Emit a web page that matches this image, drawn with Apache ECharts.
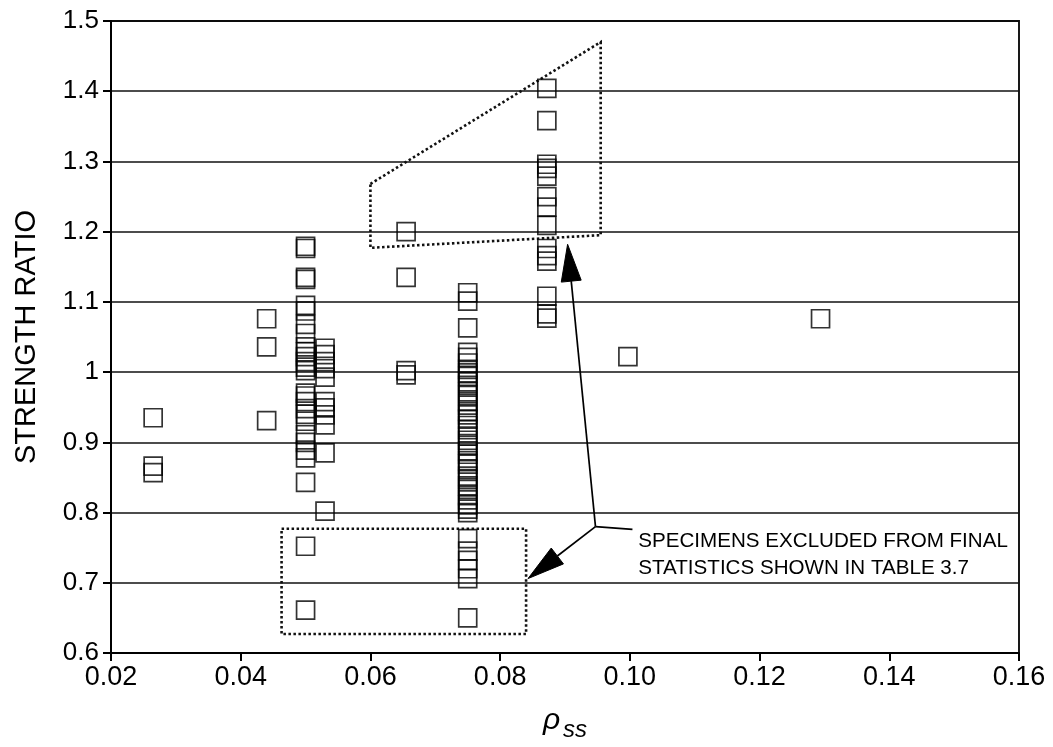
<!DOCTYPE html>
<html>
<head>
<meta charset="utf-8">
<script src="https://cdn.jsdelivr.net/npm/echarts@6/dist/echarts.min.js"></script>
<style>
  html, body { margin: 0; padding: 0; background: #fff; }
  #chart { width: 1053px; height: 747px; }
</style>
</head>
<body>
<div id="chart"></div>
<script>
// Reinforcement ratio (rho_ss) of each specimen group
const rhoGroups = [0.0265, 0.044, 0.050, 0.053, 0.0655, 0.075, 0.0872, 0.0997, 0.1294];

// Strength ratios measured in each group
const ratios0265 = [0.935, 0.866, 0.857];
const ratios044 = [1.076, 1.036, 0.931];
const ratios050 = [1.179, 1.176, 1.135, 1.132, 1.095, 1.087, 1.068, 1.055, 1.036, 1.029,
                   1.022, 1.015, 1.007, 1.002, 0.970, 0.966, 0.958, 0.948, 0.940, 0.930,
                   0.911, 0.900, 0.889, 0.878, 0.843, 0.752, 0.661];
const ratios053 = [1.034, 1.025, 1.015, 1.005, 0.993, 0.958, 0.949, 0.939, 0.925, 0.885, 0.802];
const ratios0655 = [1.200, 1.135, 1.002, 0.996];
const ratios075 = [1.113, 1.101, 1.063, 1.028, 1.021, 1.013, 1.004, 0.999, 0.994, 0.986,
                   0.981, 0.972, 0.967, 0.958, 0.953, 0.944, 0.939, 0.933, 0.924, 0.918,
                   0.909, 0.903, 0.896, 0.888, 0.883, 0.874, 0.869, 0.861, 0.852, 0.847,
                   0.838, 0.833, 0.824, 0.818, 0.811, 0.805, 0.800, 0.763, 0.745, 0.732,
                   0.720, 0.706, 0.650];
const ratios0872 = [1.404, 1.358, 1.296, 1.290, 1.279, 1.250, 1.235, 1.209, 1.176, 1.166,
                    1.158, 1.108, 1.083, 1.077];
const ratios0997 = [1.022];
const ratios1294 = [1.076];

const groupRatios = [ratios0265, ratios044, ratios050, ratios053, ratios0655,
                     ratios075, ratios0872, ratios0997, ratios1294];

// Tick labels
const xTickLabels = ['0.02', '0.04', '0.06', '0.08', '0.10', '0.12', '0.14', '0.16'];
const yTickLabels = ['0.6', '0.7', '0.8', '0.9', '1', '1.1', '1.2', '1.3', '1.4', '1.5'];

// Excluded-specimen outlines (data coordinates)
const upperOutline = [[0.060, 1.268], [0.0955, 1.470], [0.0955, 1.195], [0.060, 1.177]];
const lowerOutline = [[0.0463, 0.777], [0.0840, 0.777], [0.0840, 0.627], [0.0463, 0.627]];
// Callout: junction, arrow tips, leader end, text anchor
const calloutJunction = [0.0947, 0.780];
const arrowTips = [[0.0904, 1.182], [0.0843, 0.706]];
const leaderEnd = [0.1004, 0.776];
const noteAnchor = [0.1013, 0.778];
const noteLines = ['SPECIMENS EXCLUDED FROM FINAL', 'STATISTICS SHOWN IN TABLE 3.7'];

const points = [];
rhoGroups.forEach((rho, i) => {
  groupRatios[i].forEach(r => points.push([rho, r]));
});

const chart = echarts.init(document.getElementById('chart'), null, { renderer: 'canvas' });
const FONT = '"Liberation Sans", Arial, Helvetica, sans-serif';

chart.setOption({
  animation: false,
  backgroundColor: '#fff',
  grid: {
    left: 111, right: 34, top: 21, bottom: 91,
    show: true, borderColor: '#000', borderWidth: 1.8, backgroundColor: 'transparent'
  },
  xAxis: {
    type: 'value', min: 0.02, max: 0.16, interval: 0.02,
    name: '{r|ρ}{s|ss}',
    nameLocation: 'middle', nameGap: 53,
    nameTextStyle: {
      rich: {
        r: { fontFamily: FONT, fontStyle: 'italic', fontSize: 30, color: '#000', verticalAlign: 'top' },
        s: { fontFamily: FONT, fontStyle: 'italic', fontSize: 24, color: '#000', verticalAlign: 'top', padding: [12, 0, 0, 3] }
      }
    },
    axisLine: { show: true, onZero: false, lineStyle: { color: '#000', width: 2 } },
    axisTick: { show: true, inside: false, length: 8, lineStyle: { color: '#000', width: 2 } },
    axisLabel: {
      margin: 11, color: '#000', fontFamily: FONT, fontSize: 27,
      formatter: v => xTickLabels[Math.round((v - 0.02) / 0.02)]
    },
    splitLine: { show: false }
  },
  yAxis: {
    type: 'value', min: 0.6, max: 1.5, interval: 0.1,
    name: 'STRENGTH RATIO',
    nameLocation: 'middle', nameGap: 70,
    nameTextStyle: { fontFamily: FONT, fontSize: 29, color: '#000' },
    axisLine: { show: true, onZero: false, lineStyle: { color: '#000', width: 2 } },
    axisTick: { show: true, inside: false, length: 8, lineStyle: { color: '#000', width: 2 } },
    axisLabel: {
      margin: 12, color: '#000', fontFamily: FONT, fontSize: 26,
      formatter: v => yTickLabels[Math.round((v - 0.6) / 0.1)]
    },
    splitLine: { show: true, lineStyle: { color: '#111', width: 1.5 } }
  },
  series: [{
    type: 'scatter',
    data: points,
    symbol: 'rect',
    symbolSize: 18,
    silent: true,
    itemStyle: { color: 'rgba(0,0,0,0)', borderColor: '#000', borderWidth: 1.7 }
  }]
});

// Annotation layer, positioned through the grid's own coordinate system
function toPx(p) { return chart.convertToPixel({ gridIndex: 0 }, p); }

function arrowHead(from, tip, len, halfW) {
  const dx = tip[0] - from[0], dy = tip[1] - from[1];
  const d = Math.sqrt(dx * dx + dy * dy);
  const ux = dx / d, uy = dy / d;
  const bx = tip[0] - ux * len, by = tip[1] - uy * len;
  return [tip, [bx - uy * halfW, by + ux * halfW], [bx + uy * halfW, by - ux * halfW]];
}

function drawNotes() {
  const dotted = { stroke: '#111', lineWidth: 2.6, lineDash: [2.5, 2.5], fill: null };
  const solid = { stroke: '#000', lineWidth: 1.7, fill: null };
  const j = toPx(calloutJunction);
  const elements = [
    { type: 'polygon', shape: { points: upperOutline.map(toPx) }, style: dotted, silent: true },
    { type: 'polygon', shape: { points: lowerOutline.map(toPx) }, style: dotted, silent: true },
    { type: 'line', shape: { x1: j[0], y1: j[1], x2: toPx(leaderEnd)[0], y2: toPx(leaderEnd)[1] }, style: solid, silent: true }
  ];
  arrowTips.forEach(t => {
    const tp = toPx(t);
    const head = arrowHead(j, tp, 37, 10);
    const base = [(head[1][0] + head[2][0]) / 2, (head[1][1] + head[2][1]) / 2];
    elements.push({ type: 'line', shape: { x1: j[0], y1: j[1], x2: base[0], y2: base[1] }, style: solid, silent: true });
    elements.push({ type: 'polygon', shape: { points: head }, style: { fill: '#000', stroke: '#000', lineWidth: 1 }, silent: true });
  });
  const a = toPx(noteAnchor);
  elements.push({
    type: 'text', x: a[0], y: a[1], silent: true,
    style: {
      text: noteLines.join('\n'), fill: '#000', font: '20.6px ' + FONT,
      lineHeight: 27, align: 'left', verticalAlign: 'top'
    }
  });
  chart.setOption({ graphic: elements });
}
drawNotes();
</script>
</body>
</html>
